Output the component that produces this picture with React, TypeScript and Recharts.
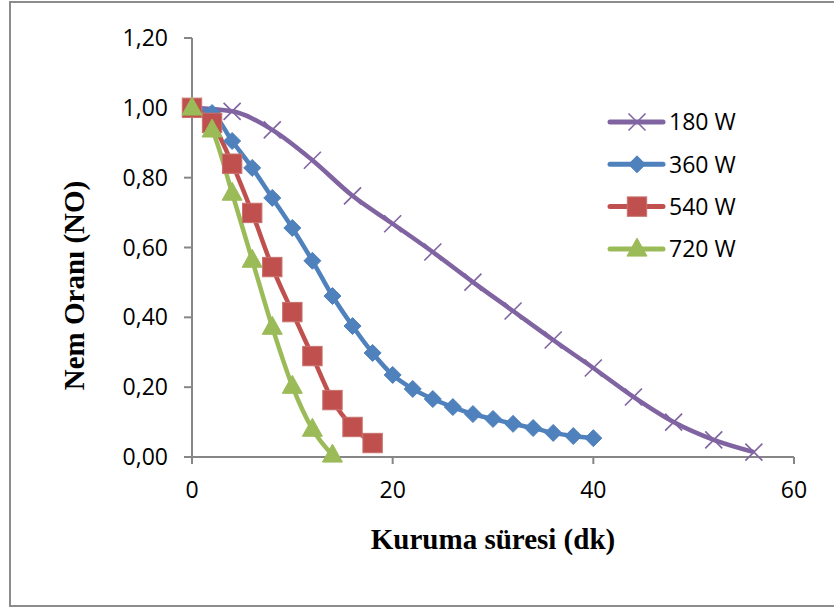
import React from 'react';
import { LineChart, Line, XAxis, YAxis } from 'recharts';

const times180 = [0, 4, 8, 12, 16, 20, 24, 28, 32, 36, 40, 44, 48, 52, 56];
const nem180 = [1.0, 0.99, 0.937, 0.85, 0.748, 0.668, 0.587, 0.501, 0.418, 0.335, 0.255, 0.172, 0.1, 0.049, 0.014];
const times360 = [0, 2, 4, 6, 8, 10, 12, 14, 16, 18, 20, 22, 24, 26, 28, 30, 32, 34, 36, 38, 40];
const nem360 = [1.0, 0.985, 0.905, 0.828, 0.742, 0.656, 0.562, 0.461, 0.375, 0.298, 0.235, 0.195, 0.166, 0.143, 0.123, 0.109, 0.095, 0.083, 0.069, 0.06, 0.054];
const times540 = [0, 2, 4, 6, 8, 10, 12, 14, 16, 18];
const nem540 = [1.0, 0.957, 0.84, 0.699, 0.544, 0.415, 0.289, 0.163, 0.086, 0.04];
const times720 = [0, 2, 4, 6, 8, 10, 12, 14];
const nem720 = [1.0, 0.937, 0.756, 0.564, 0.372, 0.203, 0.08, 0.006];

const xTicks = [0, 20, 40, 60];
const yTicks = [0, 0.2, 0.4, 0.6, 0.8, 1.0, 1.2];
const seriesNames = ['180 W', '360 W', '540 W', '720 W'];
const seriesColors = ['#8064A2', '#4F81BD', '#C0504D', '#9BBB59'];
const seriesShapes = ['cross', 'diamond', 'square', 'triangle'];

const toData = (xs: number[], ys: number[]) => xs.map((x, i) => ({ x, y: ys[i] }));
const seriesData = [
  toData(times180, nem180),
  toData(times360, nem360),
  toData(times540, nem540),
  toData(times720, nem720),
];

const TICK_FONT = '"Open Sans", "Noto Sans", sans-serif';
const TITLE_FONT = '"Liberation Serif", "DejaVu Serif", serif';

function Marker({ shape, cx, cy, color }: { shape: string; cx: number; cy: number; color: string }) {
  if (shape === 'cross') {
    const r = 8.5;
    return (
      <g>
        <line x1={cx - r} y1={cy - r} x2={cx + r} y2={cy + r} stroke={color} strokeWidth={1.6} />
        <line x1={cx - r} y1={cy + r} x2={cx + r} y2={cy - r} stroke={color} strokeWidth={1.6} />
      </g>
    );
  }
  if (shape === 'diamond') {
    const r = 8.5;
    return (
      <polygon
        points={`${cx},${cy - r} ${cx + r},${cy} ${cx},${cy + r} ${cx - r},${cy}`}
        fill={color}
        stroke={color}
        strokeWidth={1}
      />
    );
  }
  if (shape === 'square') {
    const r = 9.7;
    return <rect x={cx - r} y={cy - r} width={2 * r} height={2 * r} fill={color} stroke="#C9726F" strokeWidth={1} />;
  }
  const w = 10;
  const h = 18;
  return (
    <polygon
      points={`${cx},${cy - h * 0.6} ${cx + w},${cy + h * 0.4} ${cx - w},${cy + h * 0.4}`}
      fill={color}
      stroke={color}
      strokeWidth={1}
    />
  );
}

const makeDot = (idx: number) => (props: any) => {
  const { cx, cy, index } = props;
  if (cx == null || cy == null) return <g key={`d-${idx}-${index}`} />;
  return (
    <g key={`d-${idx}-${index}`}>
      <Marker shape={seriesShapes[idx]} cx={cx} cy={cy} color={seriesColors[idx]} />
    </g>
  );
};

const LegendBox = () => (
  <svg width={160} height={170} style={{ position: 'absolute', left: 601, top: 100 }}>
    {seriesNames.map((name, i) => {
      const y = 22 + i * 42.3;
      return (
        <g key={name}>
          <line x1={9} y1={y} x2={62} y2={y} stroke={seriesColors[i]} strokeWidth={5} strokeLinecap="round" />
          <Marker shape={seriesShapes[i]} cx={36} cy={y} color={seriesColors[i]} />
          <text x={68} y={y} dy="0.36em" fontFamily={TICK_FONT} fontSize={23} fill="#000">
            {name}
          </text>
        </g>
      );
    })}
  </svg>
);

const fmt = (v: number) => v.toFixed(2).replace('.', ',');

export default function App() {
  return (
    <div
      style={{
        position: 'absolute',
        left: 0,
        top: 0,
        width: 834,
        height: 607,
        overflow: 'hidden',
        background: '#fff',
      }}
    >
      <div
        style={{
          position: 'absolute',
          left: 9,
          top: 1,
          width: 840,
          height: 606,
          border: '2px solid #8C8C8C',
          boxSizing: 'border-box',
        }}
      />
      <div style={{ position: 'absolute', left: 0, top: 0 }}>
        <LineChart width={834} height={607} margin={{ top: 38, right: 40, bottom: 120, left: 112 }}>
          <XAxis
            type="number"
            dataKey="x"
            domain={[0, 60]}
            ticks={xTicks}
            allowDuplicatedCategory={false}
            height={30}
            stroke="#868686"
            strokeWidth={2}
            tickSize={7}
            tickMargin={18}
            tick={{ fill: '#000', fontSize: 23, fontFamily: TICK_FONT }}
            label={{
              value: 'Kuruma süresi (dk)',
              position: 'insideBottom',
              offset: -62,
              style: { fontFamily: TITLE_FONT, fontWeight: 'bold', fontSize: 29, fill: '#000' },
            }}
          />
          <YAxis
            type="number"
            domain={[0, 1.2]}
            ticks={yTicks}
            width={80}
            stroke="#868686"
            strokeWidth={2}
            tickSize={8}
            tickMargin={16}
            tickFormatter={fmt}
            tick={{ fill: '#000', fontSize: 23, fontFamily: TICK_FONT }}
            label={{
              value: 'Nem Oranı (NO)',
              angle: -90,
              position: 'center',
              dx: -78,
              dy: 38,
              style: { fontFamily: TITLE_FONT, fontWeight: 'bold', fontSize: 29, fill: '#000', textAnchor: 'middle' },
            }}
          />
          {seriesData.map((d, i) => (
            <Line
              key={seriesNames[i]}
              name={seriesNames[i]}
              data={d}
              dataKey="y"
              type="monotone"
              stroke={seriesColors[i]}
              strokeWidth={4.5}
              dot={makeDot(i)}
              activeDot={false}
              isAnimationActive={false}
            />
          ))}
        </LineChart>
      </div>
      <LegendBox />
    </div>
  );
}
